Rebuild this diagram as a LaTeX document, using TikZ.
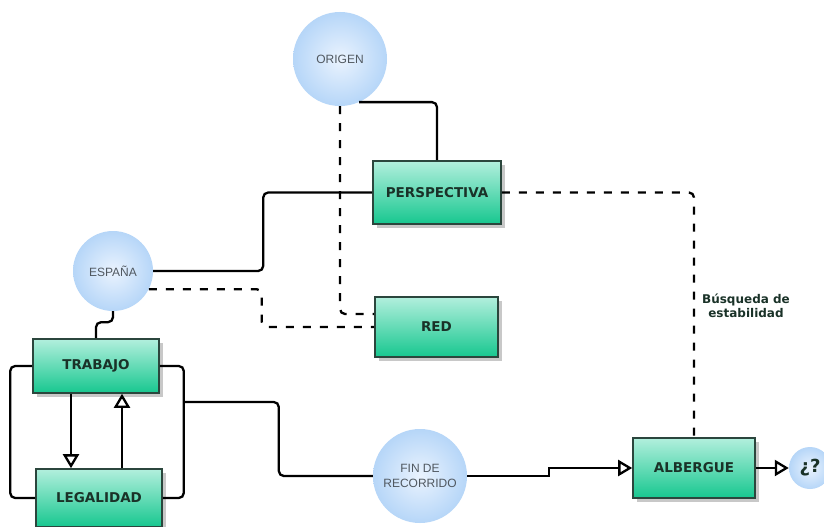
\documentclass[tikz,border=0pt]{standalone}
\usepackage{fontspec}
\setmainfont{DejaVu Sans}
\newfontfamily\boxfont{DejaVu Sans}
\newfontfamily\circfont{Liberation Sans}
\usetikzlibrary{arrows.meta,shadows,calc}
\definecolor{boxtop}{HTML}{B2EFDD}
\definecolor{boxbot}{HTML}{17C78F}
\definecolor{boxline}{HTML}{2B463D}
\definecolor{boxtext}{HTML}{1A3228}
\definecolor{circin}{HTML}{EAF3FE}
\definecolor{circout}{HTML}{B6D6F8}
\definecolor{circtext}{HTML}{505860}
\tikzset{
  stepbox/.style={rectangle, draw=boxline, line width=1.6pt, top color=boxtop, bottom color=boxbot,
    drop shadow={shadow xshift=4pt, shadow yshift=-4pt, fill=black!30, opacity=0.7},
    font=\boxfont\bfseries\fontsize{13.5}{15}\selectfont, text=boxtext, inner sep=0pt},
  bubble/.style={circle, inner sep=0pt, inner color=circin, outer color=circout,
    font=\circfont\fontsize{12}{14.5}\selectfont, text=circtext, align=center},
  conn/.style={draw=black, line width=2.3pt, rounded corners=5pt},
  dconn/.style={conn, dash pattern=on 8pt off 9pt},
  opentip/.style={-{Triangle[open, length=14pt, width=16pt]}},
}
\begin{document}
\begin{tikzpicture}[x=1pt, y=-1pt]
\useasboundingbox[fill=white] (0,0) rectangle (824,527);

% circles
\node[bubble, minimum size=94pt] (O) at (340,59) {ORIGEN};
\node[bubble, minimum size=80pt] (E) at (113,271) {ESPAÑA};
\node[bubble, minimum size=94pt] (F) at (420,476) {FIN DE\\RECORRIDO};
\node[bubble, minimum size=42pt, font=\boxfont\bfseries\fontsize{18}{20}\selectfont, text=boxtext] (Q) at (810,468) {¿?};

% boxes
\node[stepbox, minimum width=128pt, minimum height=63pt] (P) at (437,192.5) {PERSPECTIVA};
\node[stepbox, minimum width=123pt, minimum height=60pt] (R) at (436.5,327) {RED};
\node[stepbox, minimum width=126pt, minimum height=54pt] (T) at (96,366) {TRABAJO};
\node[stepbox, minimum width=126pt, minimum height=58pt] (L) at (99,498) {LEGALIDAD};
\node[stepbox, minimum width=122pt, minimum height=60pt] (A) at (694,468) {ALBERGUE};

% connectors
\draw[conn] (O.-66) -| (P.north);
\draw[dconn] (O.south) |- ([yshift=13pt]R.west);
\draw[conn] (E.east) -- ++(110,0) |- (P.west);
\draw[dconn] (E.-27) -- ++(113,0) |- (R.west);
\draw[conn] (E.south) -- ++(0,11) -| (T.north);
\draw[conn, opentip, rounded corners=0pt] ([xshift=-25pt]T.south) -- ([xshift=-25pt]T.south |- L.north);
\draw[conn, opentip, rounded corners=0pt] ([xshift=26pt]T.south |- L.north) -- ([xshift=26pt]T.south);
\draw[conn] (T.west) -- ++(-22,0) |- (L.west);
\draw[conn] (T.east) -- ++(24,0) |- (L.east);
\coordinate (br) at ($(T.east)+(24,36)$);
\draw[conn] (br) -- ++(95,0) |- (F.west);
\draw[conn, opentip, rounded corners=0pt] (F.east) -- ++(82,0) |- (A.west);
\draw[conn, opentip] (A.east) -- (Q.west);
\draw[dconn] (P.east) -| (A.north);
\node[font=\boxfont\bfseries\fontsize{12}{14}\selectfont, text=boxtext, align=center] (lab) at (746,306) {Búsqueda de\\estabilidad};
\end{tikzpicture}
\end{document}
